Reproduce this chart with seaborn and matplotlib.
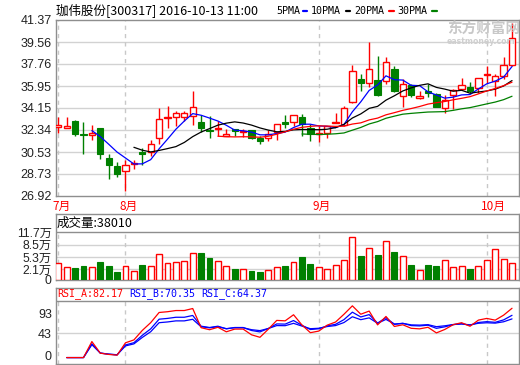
import numpy as np
import pandas as pd
import matplotlib
matplotlib.use("Agg")
import matplotlib.pyplot as plt
from matplotlib.lines import Line2D
from matplotlib.patches import Ellipse
import matplotlib.transforms as mtransforms
import seaborn as sns

# ---------------- data ----------------
title = "珈伟股份[300317] 2016-10-13 11:00"
opens = [32.60, 32.52, 33.04, 32.05, 31.94, 32.54, 30.06, 29.37, 29.01, 29.53,
         30.50, 30.53, 31.72, 33.32, 33.43, 33.43, 33.51, 32.96, 32.35, 32.46,
         31.83, 32.43, 32.19, 32.32, 31.72, 31.66, 32.19, 32.96, 32.96, 33.43,
         32.54, 32.05, 32.13, 32.93, 32.77, 34.62, 36.52, 36.22, 36.47, 36.33,
         37.38, 35.09, 36.00, 35.00, 35.53, 35.31, 34.15, 35.22, 35.72, 35.86,
         35.80, 36.83, 36.36, 36.74, 37.65]
highs = [33.37, 33.37, 33.12, 32.96, 32.74, 32.54, 30.33, 29.73, 29.84, 29.86,
         30.89, 31.49, 34.12, 34.34, 33.93, 33.93, 35.53, 33.57, 33.51, 33.04,
         32.46, 32.43, 32.40, 32.35, 31.85, 32.32, 32.85, 33.59, 33.59, 33.65,
         32.82, 32.68, 32.68, 33.70, 34.34, 37.65, 36.96, 39.59, 38.40, 38.35,
         37.57, 36.55, 36.14, 35.53, 36.14, 35.36, 35.25, 35.72, 36.63, 36.27,
         36.58, 37.57, 36.91, 38.35, 41.11]
lows = [32.10, 32.52, 31.83, 30.33, 31.49, 29.92, 28.35, 28.46, 27.35, 29.17,
        29.50, 30.19, 31.22, 32.54, 32.68, 33.04, 32.77, 32.21, 31.66, 31.85,
        31.83, 31.85, 31.80, 31.58, 31.16, 31.44, 31.50, 32.54, 32.68, 31.85,
        31.44, 31.38, 31.66, 32.88, 32.68, 34.53, 35.53, 35.86, 35.17, 36.14,
        35.44, 34.26, 35.03, 34.89, 35.03, 34.20, 33.70, 34.06, 35.64, 35.36,
        35.36, 36.19, 35.09, 36.55, 37.57]
closes = [32.79, 32.63, 31.99, 31.91, 32.13, 30.33, 29.50, 28.76, 29.48, 29.67,
          30.39, 31.22, 33.21, 33.43, 33.76, 33.76, 34.26, 32.54, 32.27, 32.54,
          32.02, 32.27, 32.27, 31.72, 31.44, 31.99, 32.85, 32.82, 33.59, 32.82,
          31.99, 32.13, 32.68, 33.01, 34.15, 37.19, 36.22, 37.38, 35.22, 37.93,
          35.58, 36.08, 35.22, 35.09, 35.39, 34.26, 34.81, 35.64, 36.00, 35.53,
          36.58, 36.91, 36.74, 37.65, 39.86]
volumes = [3.67, 2.62, 2.37, 2.96, 2.62, 3.92, 2.96, 1.40, 2.88, 1.58,
           3.23, 2.88, 6.01, 3.67, 3.92, 4.18, 6.26, 6.36, 5.06, 4.18,
           2.88, 2.18, 2.10, 1.67, 1.40, 1.84, 2.79, 2.88, 3.92, 5.31,
           3.49, 2.79, 2.10, 3.15, 4.45, 10.44, 5.57, 7.57, 5.84, 9.39,
           6.62, 5.48, 3.23, 1.84, 3.23, 2.96, 4.45, 2.62, 2.88, 2.18,
           2.88, 4.45, 7.31, 4.70, 3.80]  # 万
month_pos = [0, 8, 31, 51]
month_labels = ["7月", "8月", "9月", "10月"]
price_ticks = [26.92, 28.73, 30.53, 32.34, 34.15, 35.95, 37.76, 39.56, 41.37]
vol_ticks = [0, 2.1, 5.3, 8.5, 11.7]
vol_tick_labels = ["0", "2.1万", "5.3万", "8.5万", "11.7万"]
rsi_tick_labels = ["0", "43", "93"]
ma_periods = [5, 10, 20, 30]
ma_names = ["5PMA", "10PMA", "20PMA", "30PMA"]
rsi_periods = [6, 12, 24]
rsi_names = ["RSI_A", "RSI_B", "RSI_C"]
rsi_last = ["82.17", "70.35", "64.37"]
vol_header = "成交量:38010"

# ---------------- styling ----------------
sns.set_style("white")
plt.rcParams["font.family"] = ["Liberation Sans", "Noto Sans CJK SC"]
RED, GREEN, BLUE, BLACK = "#FF0000", "#008000", "#0000FF", "#000000"
GRID, SPINE, DASH = "#D2D2D2", "#8E8E8E", "#C8C8C8"
ma_colors = [BLUE, BLACK, RED, GREEN]
rsi_colors = [RED, BLUE, BLUE]

W, H = 520, 365
fig = plt.figure(figsize=(W / 100, H / 100), dpi=100)
fig.patch.set_facecolor("white")


def rect(x0, y0, x1, y1):
    return [x0 / W, 1 - y1 / H, (x1 - x0) / W, (y1 - y0) / H]


def fx(x):
    return x / W


def fy(y):
    return 1 - y / H


ax1 = fig.add_axes(rect(56, 20, 519, 196))
ax2 = fig.add_axes(rect(56, 214, 519, 280))
ax3 = fig.add_axes(rect(56, 288, 519, 364))

n = len(closes)
x = np.arange(n)
o = np.array(opens); c = np.array(closes); hi = np.array(highs); lo = np.array(lows)
v = np.array(volumes)
up = c >= o
d = ~up
XL = (-0.27, 54.83)

for ax in (ax1, ax2, ax3):
    ax.set_xlim(*XL)
    ax.set_xticks([])
    for s in ax.spines.values():
        s.set_color(SPINE)
        s.set_linewidth(1)
    ax.tick_params(axis="y", length=0, pad=3, labelsize=9, colors="#222222")
    ax.set_facecolor("white")

# ---------------- main price panel ----------------
ax1.set_ylim(26.92, 41.37)
ax1.set_yticks(price_ticks)
ax1.set_yticklabels([f"{t:.2f}" for t in price_ticks])
for t in price_ticks[1:-1]:
    ax1.axhline(t, color=GRID, lw=1, zorder=0)
ax1.vlines(month_pos, 26.92, 41.37, colors=DASH, linestyles=(0, (3, 3)), lw=1, zorder=0)

body_lo = np.minimum(o, c)
body_hi = np.maximum(o, c)
body_h = np.maximum(body_hi - body_lo, 0.06)
# down (green, filled)
ax1.vlines(x[d], lo[d], hi[d], colors=GREEN, lw=1, zorder=2)
ax1.bar(x[d], body_h[d], bottom=body_lo[d], width=0.75, color=GREEN,
        edgecolor=GREEN, lw=0.8, zorder=3)
# up (red, hollow)
ax1.vlines(x[up], lo[up], body_lo[up], colors=RED, lw=1, zorder=2)
ax1.vlines(x[up], body_hi[up], hi[up], colors=RED, lw=1, zorder=2)
ax1.bar(x[up], body_h[up], bottom=body_lo[up], width=0.75, facecolor="white",
        edgecolor=RED, lw=1, zorder=3)

df = pd.DataFrame({"i": x, "close": c})
for p, col in zip(ma_periods, ma_colors):
    df[f"ma{p}"] = df["close"].rolling(p).mean()
    sns.lineplot(data=df.dropna(subset=[f"ma{p}"]), x="i", y=f"ma{p}", ax=ax1,
                 color=col, lw=0.9, zorder=4)
ax1.set_xlabel(""); ax1.set_ylabel("")
ax1.set_xlim(*XL)

# month labels
trans = mtransforms.blended_transform_factory(ax1.transData, ax1.transAxes)
for mp, ml in zip(month_pos, month_labels):
    ax1.text(mp - 0.72, -10.5 / 176, ml, transform=trans, color=RED, fontsize=8.5,
             ha="left", va="center", family=["Noto Sans CJK SC"])

# ---------------- volume panel ----------------
VOL_LIM = (-0.68, 16.51)
ax2.set_ylim(*VOL_LIM)
ax2.set_yticks([VOL_LIM[0]] + vol_ticks[1:])
ax2.set_yticklabels(vol_tick_labels)
for lab in ax2.get_yticklabels():
    lab.set_fontsize(8.8)
for t in vol_ticks[1:-1]:
    ax2.axhline(t, color=GRID, lw=1, zorder=0)
ax2.axhline(vol_ticks[-1], color=SPINE, lw=1, zorder=1)
ax2.vlines(month_pos, VOL_LIM[0], vol_ticks[-1], colors=DASH,
           linestyles=(0, (3, 3)), lw=1, zorder=0)
base = VOL_LIM[0]
ax2.bar(x[d], v[d] - base, bottom=base, width=0.7, color=GREEN, edgecolor=GREEN,
        lw=0.8, zorder=3)
ax2.bar(x[up], v[up] - base, bottom=base, width=0.7, facecolor="white",
        edgecolor=RED, lw=1, zorder=3)

# ---------------- RSI panel ----------------
diff = np.diff(c)
gain = np.maximum(diff, 0)
absd = np.abs(diff)
rsi_df = pd.DataFrame({"i": x[1:]})
for N, name in zip(rsi_periods, rsi_names):
    su = sa = 0.0
    vals = []
    for g, a in zip(gain, absd):
        su = (g + (N - 1) * su) / N
        sa = (a + (N - 1) * sa) / N
        vals.append(su / sa * 100 if sa > 0 else 0.0)
    rsi_df[name] = vals

RSI_LIM = (-10.7, 116.0)
ax3.set_ylim(*RSI_LIM)
sep = 94.3
ax3.axhline(sep, color=SPINE, lw=1, zorder=1)
rsi_tick_pos = [3.2, 40.2, 74.3]
ax3.set_yticks(rsi_tick_pos)
ax3.set_yticklabels(rsi_tick_labels)
ax3.axhline(rsi_tick_pos[1], color=GRID, lw=1, zorder=0)
ax3.vlines(month_pos, RSI_LIM[0], sep, colors=DASH, linestyles=(0, (3, 3)), lw=1, zorder=0)
for name, col in zip(rsi_names[::-1], rsi_colors[::-1]):
    sns.lineplot(data=rsi_df, x="i", y=name, ax=ax3, color=col, lw=0.9, zorder=3)
ax3.set_xlabel(""); ax3.set_ylabel("")
ax3.set_xlim(*XL)

# ---------------- header texts ----------------
fig.text(fx(56), fy(10), title, fontsize=9, family=["Noto Sans CJK SC"],
         ha="left", va="center", color="black")
leg_x = [276, 311, 354, 397]
dash_x = [(303, 307), (346, 350), (389, 394), (432, 437)]
for name, col, tx, (d0, d1) in zip(ma_names, ma_colors, leg_x, dash_x):
    fig.text(fx(tx), fy(10.5), name, fontsize=7.2, family=["DejaVu Sans Mono"],
             ha="left", va="center", color="black")
    fig.add_artist(Line2D([fx(d0), fx(d1)], [fy(11), fy(11)], color=col, lw=1.6))

# watermark (logo + name)
logo = Ellipse((fx(437), fy(32)), width=fx(14), height=20 / H, angle=0,
               transform=fig.transFigure, facecolor="#D4D4D4", edgecolor="none",
               zorder=0)
fig.add_artist(logo)
for k in range(3):
    fig.add_artist(Line2D([fx(430 + 4 * k), fx(438 + 4 * k)], [fy(40), fy(24)],
                          color="white", lw=1.2, zorder=1))
fig.text(fx(447), fy(29), "东方财富网", fontsize=10.5, family=["Noto Sans CJK SC"],
         fontweight="bold", color="#C8C8C8", ha="left", va="center", zorder=0)
fig.text(fx(447), fy(41.5), "eastmoney.com", fontsize=5.6, fontweight="bold",
         family=["DejaVu Sans"], color="#CFCFCF", ha="left", va="center", zorder=0)

fig.text(fx(57), fy(223), vol_header, fontsize=9, family=["Noto Sans CJK SC"],
         ha="left", va="center", color="black")

for name, val, col, tx in zip(rsi_names, rsi_last, rsi_colors, [57, 129, 201]):
    fig.text(fx(tx), fy(293.5), f"{name}:{val}", fontsize=7.2,
             family=["DejaVu Sans Mono"], ha="left", va="center", color=col)

fig.savefig("out.png", dpi=100, facecolor="white")
